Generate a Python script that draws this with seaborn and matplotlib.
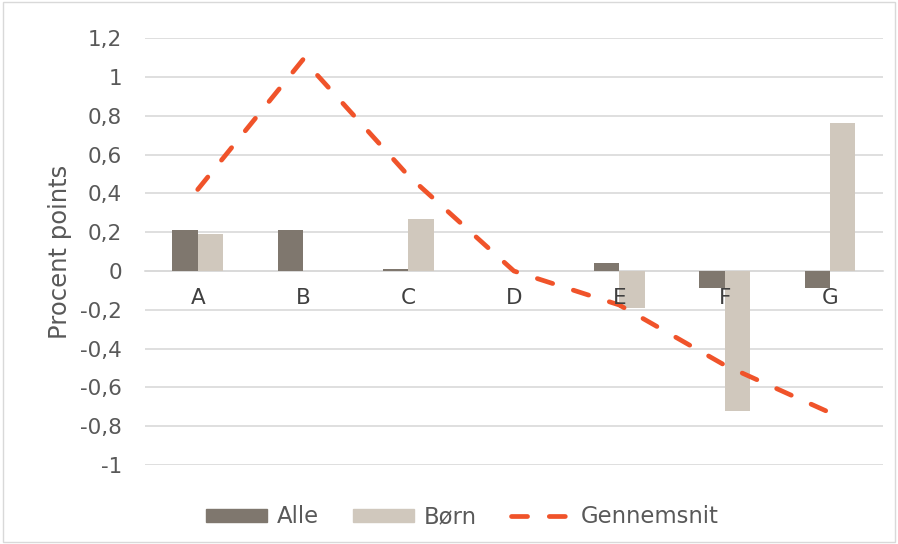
import matplotlib
matplotlib.use("Agg")
import matplotlib.pyplot as plt
import matplotlib.patches as mpatches
from matplotlib.lines import Line2D
from matplotlib.ticker import FuncFormatter
import pandas as pd
import numpy as np
import seaborn as sns

categories = ["A", "B", "C", "D", "E", "F", "G"]
alle = [0.21, 0.21, 0.01, 0.0, 0.04, -0.09, -0.09]
born = [0.19, 0.0, 0.27, 0.0, -0.19, -0.72, 0.76]
gennemsnit = [0.42, 1.09, 0.49, 0.0, -0.175, -0.485, -0.73]
yticks = [-1.0, -0.8, -0.6, -0.4, -0.2, 0.0, 0.2, 0.4, 0.6, 0.8, 1.0, 1.2]

colors = {"Alle": "#7f776e", "Børn": "#d0c8bd"}
line_color = "#f0532a"
text_color = "#595959"
grid_color = "#d9d9d9"
dash = [3.4, 4.6]

df = pd.DataFrame({
    "cat": categories * 2,
    "value": alle + born,
    "serie": ["Alle"] * len(categories) + ["Børn"] * len(categories),
})

sns.set_style("white")
plt.rcParams["font.family"] = ["DejaVu Sans"]

fig = plt.figure(figsize=(8.98, 5.44), dpi=100)
ax = fig.add_axes([0.1615, 0.145, 0.8215, 0.785])

sns.barplot(data=df, x="cat", y="value", hue="serie", palette=colors,
            width=0.48, saturation=1.0, linewidth=0, ax=ax, legend=False, zorder=2)
sns.lineplot(x=categories, y=gennemsnit, ax=ax, color=line_color, linewidth=3.4,
             zorder=3, sort=False)
ax.lines[-1].set_dashes(dash)
ax.lines[-1].set_dash_capstyle("round")

ax.set_ylim(-1.0, 1.2)
ax.set_xlim(-0.5, 6.5)
ax.set_yticks(yticks)
ax.yaxis.set_major_formatter(FuncFormatter(
    lambda v, p: ("%g" % round(v, 1)).replace(".", ",")))
ax.grid(axis="y", color=grid_color, linewidth=1.2)
ax.yaxis.set_zorder(0.5)
ax.xaxis.set_zorder(5)

for s in ["left", "right", "top"]:
    ax.spines[s].set_visible(False)
ax.spines["bottom"].set_position(("data", 0))
ax.spines["bottom"].set_color(grid_color)
ax.spines["bottom"].set_linewidth(1.2)
ax.spines["bottom"].set_zorder(1)

ax.tick_params(axis="both", length=0, labelsize=15.5, colors=text_color)
ax.tick_params(axis="y", pad=16.5)
ax.tick_params(axis="x", pad=12)
for t in ax.get_xticklabels():
    t.set_color("#404040")
ax.set_xlabel("")
ax.set_ylabel("Procent points", fontsize=17.5, color=text_color, labelpad=6)

handles = [
    mpatches.Patch(color=colors["Alle"], label="Alle"),
    mpatches.Patch(color=colors["Børn"], label="Børn"),
    Line2D([0], [0], color=line_color, linewidth=3.4, dashes=dash,
           dash_capstyle="round", label="Gennemsnit"),
]
leg = fig.legend(handles=handles, loc="center", bbox_to_anchor=(0.515, 0.05),
                 ncol=3, frameon=False, fontsize=16.4, handlelength=2.7,
                 handleheight=0.5, columnspacing=1.5, handletextpad=0.4)
for t in leg.get_texts():
    t.set_color(text_color)

fig.patches.append(mpatches.Rectangle((0.003, 0.003), 0.994, 0.994,
                                      transform=fig.transFigure, fill=False,
                                      edgecolor=grid_color, linewidth=1))

plt.savefig("out.png", dpi=100)
